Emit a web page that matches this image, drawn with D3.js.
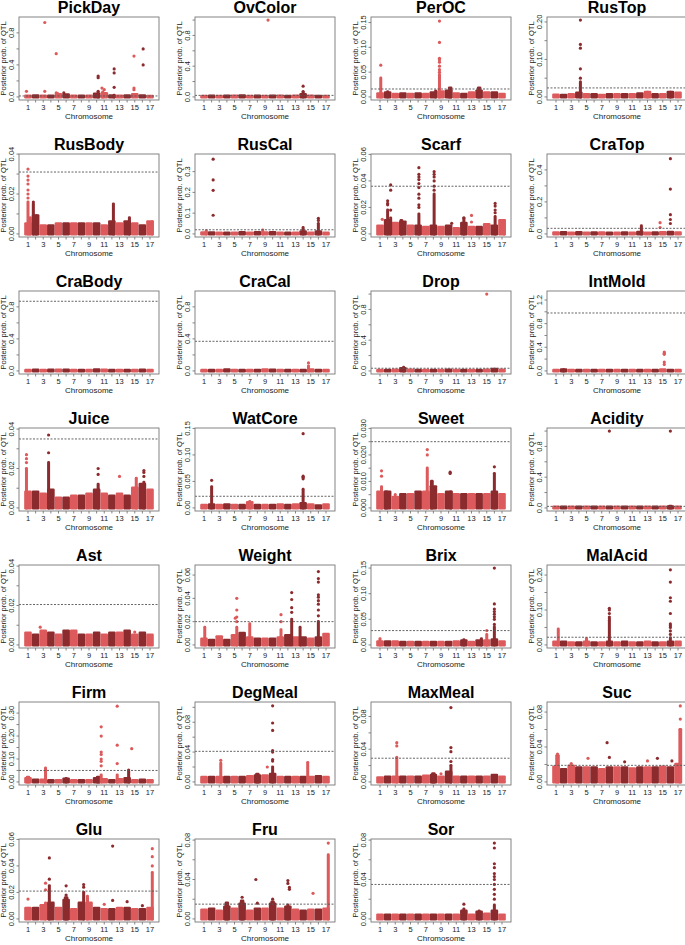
<!DOCTYPE html>
<html><head><meta charset="utf-8">
<script src="https://cdn.jsdelivr.net/npm/d3@7"></script>
<style>
body{margin:0;background:#fff}
svg{display:block}
text{font-family:"Liberation Sans",Arial,Helvetica,sans-serif;fill:#222}
</style>
</head><body>
<svg id="c" width="685" height="945"></svg>
<script>
// ---------- DATA ----------
const traits = ["PickDay","OvColor","PerOC","RusTop","RusBody","RusCal","Scarf","CraTop",
  "CraBody","CraCal","Drop","IntMold","Juice","WatCore","Sweet","Acidity",
  "Ast","Weight","Brix","MalAcid","Firm","DegMeal","MaxMeal","Suc","Glu","Fru","Sor"];
const chromosomes = [1,2,3,4,5,6,7,8,9,10,11,12,13,14,15,16,17];
const xTickLabels = ["1","3","5","7","9","11","13","15","17"];
// upper data limit of y axis
const yMax = [0.96,1.0,0.155,0.205,0.0385,0.37,0.058,0.48,
  0.96,0.96,1.0,1.3,0.039,0.145,0.029,1.0,
  0.039,0.066,0.15,0.22,0.335,0.103,0.094,0.088,0.058,0.078,0.078];
// dashed significance threshold
const thresholds = [0.012,0.02,0.016,0.024,0.031,0.02,0.036,0.035,
  0.87,0.37,0.035,0.98,0.035,0.022,0.025,0.02,
  0.0205,0.02,0.028,0.022,0.05,0.041,0.029,0.019,0.021,0.015,0.035];
// y tick step, label every n-th tick, decimals
const yTickStep = [0.2,0.2,0.05,0.05,0.01,0.1,0.02,0.1,
  0.2,0.2,0.2,0.2,0.01,0.05,0.005,0.2,
  0.01,0.02,0.05,0.05,0.05,0.02,0.02,0.02,0.02,0.02,0.02];
const yLabelEvery = [2,2,1,2,2,1,1,2, 2,2,2,2,2,1,2,2, 2,1,1,2,2,2,2,2,1,2,2];
const yDecimals = [1,1,2,2,2,1,2,1, 1,1,1,1,2,2,3,1, 2,2,2,2,2,2,2,2,2,2,2];

// background band height per chromosome (1..17)
const bandHeights = [
 [0.01,0.012,0.01,0.01,0.03,0.025,0.01,0.01,0.01,0.035,0.04,0.012,0.01,0.015,0.03,0.015,0.008],
 [0.008,0.01,0.008,0.01,0.01,0.015,0.008,0.01,0.008,0.012,0.01,0.008,0.01,0.03,0.01,0.008,0.008],
 [0.006,0.008,0.005,0.006,0.005,0.006,0.005,0.008,0.01,0.012,0.006,0.005,0.008,0.012,0.008,0.008,0.005],
 [0.005,0.004,0.006,0.01,0.006,0.006,0.004,0.006,0.006,0.006,0.006,0.008,0.012,0.006,0.006,0.012,0.01],
 [0.005,0.009,0.004,0.004,0.005,0.005,0.005,0.005,0.005,0.005,0.004,0.006,0.005,0.006,0.005,0.004,0.006],
 [0.005,0.005,0.004,0.004,0.004,0.006,0.004,0.006,0.005,0.006,0.004,0.004,0.004,0.01,0.004,0.01,0.004],
 [0.006,0.01,0.008,0.009,0.006,0.006,0.005,0.006,0.005,0.006,0.004,0.008,0.005,0.005,0.007,0.006,0.01],
 [0.006,0.008,0.005,0.008,0.005,0.006,0.006,0.005,0.005,0.006,0.005,0.01,0.005,0.006,0.008,0.01,0.006],
 [0.008,0.01,0.008,0.01,0.01,0.01,0.008,0.008,0.008,0.015,0.01,0.008,0.008,0.008,0.008,0.01,0.008],
 [0.008,0.008,0.008,0.012,0.008,0.008,0.008,0.008,0.015,0.01,0.008,0.008,0.008,0.008,0.012,0.008,0.008],
 [0.008,0.008,0.012,0.03,0.01,0.008,0.008,0.008,0.008,0.01,0.008,0.008,0.008,0.008,0.01,0.02,0.01],
 [0.01,0.02,0.01,0.01,0.01,0.01,0.01,0.01,0.01,0.01,0.01,0.01,0.01,0.01,0.02,0.01,0.01],
 [0.008,0.008,0.007,0.009,0.005,0.005,0.006,0.006,0.007,0.009,0.007,0.006,0.007,0.006,0.01,0.012,0.009],
 [0.005,0.006,0.005,0.006,0.005,0.005,0.01,0.005,0.005,0.005,0.006,0.005,0.006,0.008,0.006,0.004,0.006],
 [0.006,0.006,0.004,0.005,0.005,0.006,0.006,0.008,0.005,0.006,0.005,0.005,0.005,0.005,0.005,0.006,0.005],
 [0.01,0.01,0.01,0.01,0.01,0.01,0.01,0.01,0.01,0.01,0.01,0.01,0.01,0.01,0.01,0.015,0.01],
 [0.006,0.005,0.007,0.006,0.005,0.007,0.007,0.005,0.005,0.006,0.005,0.006,0.006,0.007,0.005,0.006,0.005],
 [0.005,0.004,0.007,0.004,0.008,0.01,0.006,0.005,0.005,0.005,0.006,0.008,0.006,0.006,0.005,0.006,0.009],
 [0.006,0.006,0.006,0.005,0.005,0.005,0.005,0.005,0.005,0.005,0.006,0.008,0.005,0.008,0.008,0.01,0.006],
 [0.008,0.008,0.006,0.006,0.008,0.006,0.006,0.008,0.006,0.008,0.006,0.006,0.008,0.006,0.006,0.008,0.008],
 [0.015,0.008,0.008,0.006,0.006,0.012,0.006,0.006,0.006,0.015,0.01,0.006,0.01,0.015,0.006,0.008,0.006],
 [0.006,0.006,0.006,0.006,0.006,0.006,0.007,0.008,0.008,0.01,0.006,0.006,0.006,0.006,0.006,0.007,0.006],
 [0.005,0.006,0.006,0.006,0.006,0.006,0.007,0.008,0.006,0.012,0.006,0.006,0.006,0.006,0.006,0.008,0.006],
 [0.017,0.014,0.018,0.016,0.016,0.016,0.014,0.016,0.016,0.016,0.015,0.016,0.016,0.016,0.017,0.016,0.02],
 [0.008,0.008,0.01,0.012,0.008,0.014,0.007,0.012,0.012,0.008,0.007,0.007,0.008,0.008,0.007,0.007,0.008],
 [0.009,0.01,0.008,0.012,0.01,0.015,0.008,0.01,0.01,0.015,0.01,0.012,0.009,0.008,0.009,0.009,0.01],
 [0.004,0.004,0.004,0.004,0.004,0.004,0.004,0.004,0.004,0.004,0.004,0.008,0.004,0.007,0.005,0.008,0.004]
];

// dense peaks: [chromosome, offset within chromosome, half-width (chromosome units), height]
const peaks = [
 [[10,0.2,0.15,0.05],[11,-0.2,0.2,0.06],[12,0.3,0.1,0.02]],
 [[14,0,0.15,0.06]],
 [[1,0.1,0.12,0.038],[9,-0.2,0.15,0.045],[10,0.2,0.3,0.018],[14,0,0.3,0.018],[2,0,0.2,0.01],[8,0.3,0.2,0.012]],
 [[4,0.2,0.15,0.035],[13,0,0.2,0.012],[16,0,0.2,0.012]],
 [[1,0,0.12,0.016],[1,0.3,0.2,0.008],[2,-0.3,0.2,0.015],[2,0.1,0.2,0.009],[12,0.2,0.15,0.015],[14,0.3,0.2,0.008],[17,0.3,0.2,0.006]],
 [[16,0,0.15,0.05],[14,0,0.2,0.03],[9,-0.3,0.2,0.018],[1,0.3,0.2,0.015]],
 [[2,0,0.15,0.018],[2,0.4,0.15,0.012],[4,-0.2,0.25,0.01],[6,0.1,0.15,0.015],[8,0.1,0.15,0.03],[12,0,0.2,0.012],[16,0.1,0.15,0.013],[17,0.3,0.2,0.01]],
 [[12,0.2,0.15,0.05]],
 [],
 [[15,-0.3,0.12,0.04]],
 [[4,0.1,0.2,0.045]],
 [[2,0,0.2,0.02]],
 [[1,-0.2,0.15,0.02],[4,-0.3,0.15,0.023],[10,0.2,0.2,0.012],[15,0.2,0.2,0.015],[16,0.2,0.2,0.013]],
 [[2,0,0.15,0.04],[14,0,0.15,0.035],[7,0,0.2,0.012]],
 [[1,0.2,0.15,0.008],[2,-0.2,0.3,0.006],[7,0.2,0.15,0.015],[8,-0.2,0.25,0.01],[10,0.3,0.25,0.006],[16,0,0.15,0.013]],
 [[16,0,0.3,0.02]],
 [],
 [[1,0.1,0.15,0.015],[5,0.3,0.15,0.015],[7,0,0.15,0.018],[11,0.1,0.15,0.013],[12,0.5,0.15,0.022],[14,-0.4,0.15,0.015],[16,0,0.15,0.02]],
 [[1,0,0.2,0.012],[12,0,0.2,0.01],[14,0.3,0.2,0.012],[15,0,0.15,0.02],[16,0,0.15,0.035]],
 [[1,0.3,0.15,0.045],[5,0,0.15,0.018],[8,0,0.15,0.07],[16,0,0.15,0.02]],
 [[1,0,0.3,0.02],[3,0.3,0.12,0.06],[6,0,0.2,0.015],[10,0.2,0.3,0.02],[11,-0.4,0.15,0.03],[13,-0.3,0.15,0.03],[14,0.2,0.2,0.045]],
 [[3,0.2,0.15,0.025],[8,0,0.3,0.01],[10,0,0.15,0.02],[15,-0.4,0.15,0.026]],
 [[3,0.2,0.15,0.028],[8,0,0.3,0.01],[10,0.3,0.2,0.02]],
 [[1,0.2,0.3,0.03],[17,0.3,0.25,0.06]],
 [[3,0.3,0.2,0.012],[4,-0.2,0.15,0.025],[6,0,0.3,0.016],[8,0.3,0.2,0.02],[9,-0.2,0.2,0.017],[17,0.3,0.15,0.035]],
 [[4,0,0.3,0.016],[6,0,0.3,0.018],[10,0,0.3,0.017],[12,0,0.2,0.014],[17,0.3,0.2,0.065]],
 [[12,0,0.2,0.01],[14,0,0.2,0.008],[16,0,0.15,0.014]]
];

// individual markers above the band: [chromosome, offset, value]
const markers = [
 [[1,-0.2,0.07],[3,0.2,0.93],[3,0.2,0.07],[5,-0.3,0.54],[5,-0.3,0.05],[5,-0.1,0.04],[6,-0.3,0.05],[10,0.2,0.26],[10,0.2,0.24],[10,0.2,0.07],[11,-0.3,0.11],[11,0,0.09],[12,0.3,0.35],[12,0.3,0.30],[12,0.3,0.12],[15,-0.1,0.51],[15,-0.1,0.11],[15,-0.1,0.09],[16,0.1,0.60],[16,0.1,0.40]],
 [[9,0.4,1.0],[14,0,0.14],[14,0,0.07]],
 [[1,0.1,0.064],[9,-0.2,0.153],[9,-0.2,0.11],[9,-0.2,0.078],[9,-0.2,0.075],[9,-0.2,0.07],[9,-0.2,0.062],[9,-0.2,0.055],[9,-0.2,0.05]],
 [[4,0.2,0.205],[4,0.2,0.14],[4,0.2,0.13],[4,0.2,0.075],[4,0.2,0.05],[4,0.2,0.04]],
 [[1,0,0.0325],[1,0,0.029],[1,0,0.027],[1,0,0.025],[1,0,0.022],[1,0,0.02],[1,0,0.018],[2,-0.3,0.016]],
 [[2,0.2,0.36],[2,0.2,0.26],[2,0.2,0.21],[2,0.2,0.09],[16,0,0.075],[16,0,0.065]],
 [[1,0.3,0.011],[2,0,0.025],[2,0,0.023],[2,0,0.022],[2,0.4,0.037],[2,0.4,0.033],[2,0.4,0.018],[6,0.1,0.05],[6,0.1,0.045],[6,0.1,0.043],[6,0.1,0.041],[6,0.1,0.038],[6,0.1,0.035],[6,0.1,0.03],[6,0.1,0.027],[6,0.1,0.022],[6,0.1,0.02],[8,0.1,0.047],[8,0.1,0.045],[8,0.1,0.043],[8,0.1,0.04],[8,0.1,0.036],[8,0.1,0.033],[10,0.4,0.008],[12,0,0.012],[13,0,0.014],[13,0,0.009],[16,0.1,0.023],[16,0.1,0.021],[16,0.1,0.018],[16,0.1,0.016]],
 [[16,0,0.47],[16,0,0.28],[16,0,0.12],[16,0,0.09],[16,0,0.065],[15,-0.35,0.07],[15,-0.35,0.04]],
 [],
 [[15,-0.3,0.1],[15,-0.3,0.06]],
 [[15,0,1.0]],
 [[15,0.2,0.32],[15,0.2,0.30],[15,0.2,0.28],[15,0.2,0.15],[15,0.2,0.11]],
 [[1,-0.2,0.027],[1,-0.2,0.025],[1,-0.2,0.023],[4,-0.3,0.028],[4,-0.3,0.037],[10,0.2,0.02],[10,0.2,0.017],[13,0,0.016],[16,0.2,0.019],[16,0.2,0.018],[16,0.2,0.016]],
 [[2,0,0.052],[14,0,0.14],[14,0,0.06],[14,0,0.058],[14,0,0.055]],
 [[1,0.2,0.014],[1,0.2,0.012],[2,0,0.005],[3,0,0.005],[7,0.2,0.022],[7,0.2,0.020],[10,0.2,0.0135],[10,0.2,0.013],[15,0.3,0.005],[16,0,0.0155]],
 [[8,0,1.0],[16,0,1.0]],
 [[3,-0.4,0.009],[15,0,0.0065]],
 [[5,0.3,0.04],[5,0.3,0.03],[5,0.3,0.024],[5,0.1,0.023],[5,0.3,0.02],[11,0.1,0.026],[11,0.1,0.02],[12,0.5,0.045],[12,0.5,0.039],[12,0.5,0.032],[12,0.5,0.028],[16,0,0.063],[16,0,0.057],[16,0,0.054],[16,0,0.043],[16,0,0.041],[16,0,0.038],[16,0,0.035],[16,0,0.03],[16,0,0.025]],
 [[15,0,0.028],[16,0,0.15],[16,0,0.08],[16,0,0.07],[16,0,0.065],[16,0,0.06],[16,0,0.055],[16,0,0.05],[16,0,0.04]],
 [[8,0,0.105],[8,0,0.1],[8,0,0.09],[8,0,0.08],[8,0,0.075],[16,0,0.215],[16,0,0.18],[16,0,0.135],[16,0,0.125],[16,0,0.09],[16,0,0.06],[16,0,0.055],[16,0,0.05],[16,0,0.04],[16,0,0.03]],
 [[11,-0.4,0.24],[11,-0.4,0.20],[11,-0.4,0.13],[11,-0.4,0.12],[11,-0.4,0.10],[11,-0.4,0.09],[11,-0.4,0.07],[13,-0.3,0.33],[13,-0.3,0.16],[13,-0.3,0.08],[15,-0.4,0.145],[14,0.2,0.052]],
 [[3,0.2,0.029],[9,0.3,0.02],[10,0,0.102],[10,0,0.079],[10,0,0.069],[10,0,0.042],[10,0,0.04],[10,0,0.03],[10,0,0.028]],
 [[3,0.2,0.048],[3,0.2,0.044],[3,0.2,0.03],[9,0,0.01],[10,0.3,0.091],[10,0.3,0.042],[10,0.3,0.037],[10,0.3,0.025]],
 [[1,0.2,0.032],[3,0,0.021],[5,0.2,0.027],[8,-0.3,0.045],[8,0,0.028],[10,0,0.023],[13,0,0.024],[14,0.3,0.027],[16,0.2,0.024],[17,0.3,0.072],[17,0.3,0.087]],
 [[1,0,0.015],[1,0,0.008],[3,0.3,0.027],[3,0.3,0.022],[4,-0.2,0.03],[4,-0.2,0.046],[6,0,0.025],[6,0,0.018],[8,0.3,0.026],[8,0.3,0.024],[11,0,0.011],[12,0.1,0.055],[12,0.1,0.014],[14,0,0.013],[16,0,0.01],[17,0.3,0.053],[17,0.3,0.047],[17,0.3,0.04]],
 [[6,0,0.022],[8,-0.2,0.04],[8,0,0.016],[10,0,0.02],[12,0,0.039],[12,0,0.036],[12,0.2,0.032],[12,0.2,0.03],[15,0.3,0.026],[17,0.3,0.077]],
 [[12,0,0.015],[16,0,0.077],[16,0,0.072],[16,0,0.056],[16,0,0.052],[16,0,0.046],[16,0,0.043],[16,0,0.04],[16,0,0.035],[16,0,0.03],[16,0,0.025],[16,0,0.02]]
];

// ---------- DRAW ----------
const svg = d3.select("#c");
const colW = 176, rowH = 137;
const B = {l:19, r:159, t:17, b:100};
const lightRed = "#dc5a5c", darkRed = "#8c2b2e";
const colorOf = ch => (ch % 2 === 1 ? lightRed : darkRed);
const R = 1.6;

traits.forEach((name, i) => {
  const c = i % 4, r = Math.floor(i / 4);
  const g = svg.append("g").attr("transform", `translate(${c*colW},${r*rowH})`);
  const M = yMax[i];
  const x = d3.scaleLinear().domain([0.5 - 0.68, 17.5 + 0.68]).range([B.l, B.r]);
  const y = d3.scaleLinear().domain([-0.04*M, 1.04*M]).range([B.b, B.t]);

  const clipId = "clip" + i;
  g.append("clipPath").attr("id", clipId).append("rect")
    .attr("x", B.l).attr("y", B.t).attr("width", B.r - B.l).attr("height", B.b - B.t);
  const pg = g.append("g").attr("clip-path", `url(#${clipId})`);

  // bands
  pg.selectAll("rect.band").data(chromosomes).join("rect")
    .attr("class","band")
    .attr("x", ch => x(ch - 0.5))
    .attr("width", ch => x(ch + 0.5) - x(ch - 0.5))
    .attr("y", ch => y(bandHeights[i][ch-1]) - R)
    .attr("height", ch => y(0) - y(bandHeights[i][ch-1]) + 2*R)
    .attr("rx", 1.2)
    .attr("fill", ch => colorOf(ch));

  // peaks
  pg.selectAll("rect.peak").data(peaks[i]).join("rect")
    .attr("class","peak")
    .attr("x", d => Math.min(x(d[0]+d[1]-d[2]), x(d[0]+d[1]) - 1.5))
    .attr("width", d => Math.max(x(d[0]+d[1]+d[2]) - x(d[0]+d[1]-d[2]), 3))
    .attr("y", d => y(d[3]) - R)
    .attr("height", d => y(0) - y(d[3]) + 2*R)
    .attr("rx", 1.4)
    .attr("fill", d => colorOf(d[0]));

  // markers
  pg.selectAll("circle").data(markers[i]).join("circle")
    .attr("cx", d => x(d[0] + d[1]))
    .attr("cy", d => y(d[2]))
    .attr("r", R)
    .attr("fill", d => colorOf(d[0]));

  // threshold
  g.append("line")
    .attr("x1", B.l).attr("x2", B.r)
    .attr("y1", y(thresholds[i])).attr("y2", y(thresholds[i]))
    .attr("stroke", "#555").attr("stroke-width", 0.9)
    .attr("stroke-dasharray", "2,1.5");

  // box
  g.append("rect").attr("x", B.l).attr("y", B.t)
    .attr("width", B.r - B.l).attr("height", B.b - B.t)
    .attr("fill", "none").attr("stroke", "#777").attr("stroke-width", 0.9);

  // y axis
  const step = yTickStep[i];
  const nT = Math.floor(1.04*M/step + 1e-6);
  const yt = d3.range(0, nT + 1);
  yt.forEach(k => {
    const v = k*step, yy = y(v);
    g.append("line").attr("x1", B.l - 2.5).attr("x2", B.l).attr("y1", yy).attr("y2", yy)
      .attr("stroke", "#777").attr("stroke-width", 0.9);
    if (k % yLabelEvery[i] === 0) {
      g.append("text").attr("transform", `translate(${B.l-5},${yy}) rotate(-90)`)
        .attr("text-anchor", "middle").attr("font-size", 7.5)
        .text(v.toFixed(yDecimals[i]));
    }
  });
  g.append("text").attr("transform", `translate(${B.l-13},${(B.t+B.b)/2}) rotate(-90)`)
    .attr("text-anchor", "middle").attr("font-size", 7.5)
    .text("Posterior prob. of QTL");

  // x axis
  chromosomes.forEach(ch => {
    g.append("line").attr("x1", x(ch)).attr("x2", x(ch)).attr("y1", B.b).attr("y2", B.b + 2.5)
      .attr("stroke", "#777").attr("stroke-width", 0.9);
  });
  xTickLabels.forEach(lab => {
    g.append("text").attr("x", x(+lab)).attr("y", B.b + 9.5)
      .attr("text-anchor", "middle").attr("font-size", 7.5).text(lab);
  });
  g.append("text").attr("x", (B.l + B.r)/2).attr("y", B.b + 18.5)
    .attr("text-anchor", "middle").attr("font-size", 8).text("Chromosome");

  // title
  g.append("text").attr("x", (B.l + B.r)/2).attr("y", 13)
    .attr("text-anchor", "middle").attr("font-size", 16).attr("font-weight", "bold")
    .style("fill", "#000").text(name);
});
</script>
</body></html>
